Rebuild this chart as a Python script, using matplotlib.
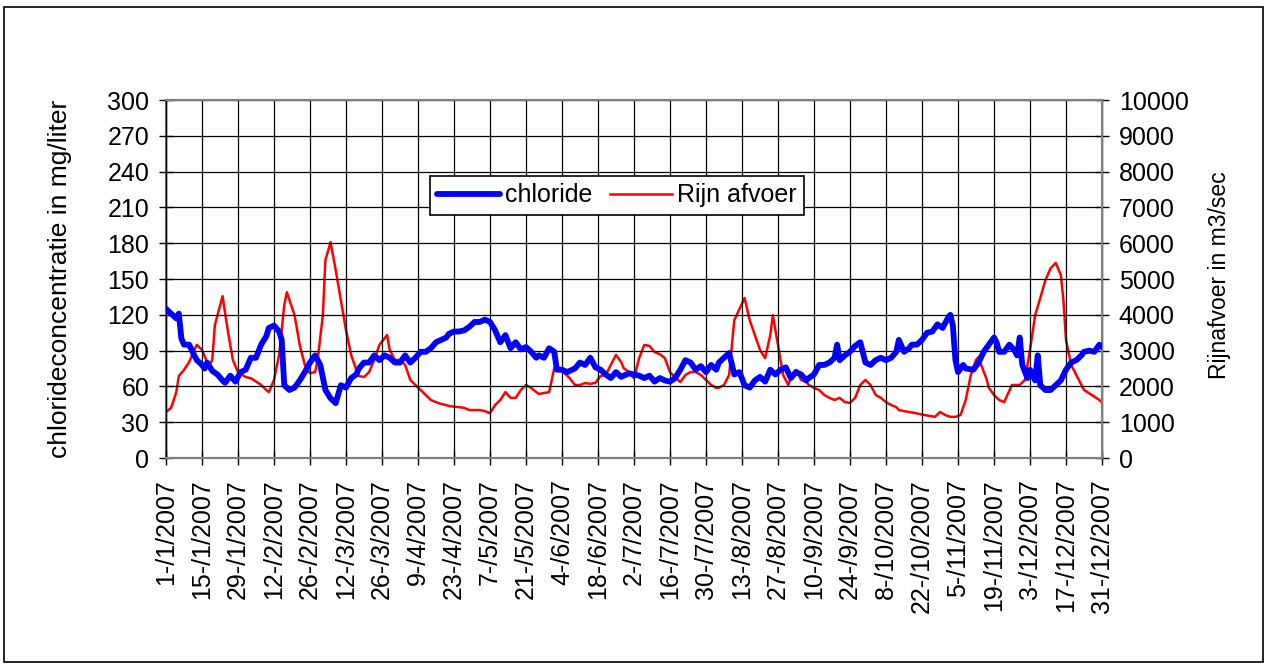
#!/usr/bin/python3

import datetime as dt
import matplotlib.pyplot as plt
from matplotlib.patches import Rectangle

plt.rcParams['font.family'] = ['Liberation Sans', 'DejaVu Sans']

# day offsets since 1 jan 2007 + values
chl_days = [0, 2, 4, 5, 6, 7, 9, 11, 12, 14,
            15, 16, 18, 20, 22, 23, 25, 27, 29, 31,
            33, 35, 37, 39, 40, 42, 44, 45, 46, 48,
            50, 52, 54, 56, 58, 60, 62, 64, 66, 68,
            70, 72, 74, 75, 77, 79, 81, 83, 85, 87,
            89, 91, 93, 95, 97, 99, 101, 103, 105, 107,
            109, 110, 112, 114, 116, 118, 120, 122, 124, 126,
            128, 130, 132, 134, 136, 138, 140, 142, 144, 145,
            147, 149, 151, 152, 154, 156, 159, 161, 163, 165,
            167, 169, 171, 173, 175, 177, 179, 180, 184, 186,
            188, 190, 192, 194, 196, 198, 200, 202, 204, 206,
            208, 210, 212, 214, 215, 217, 219, 221, 223, 225,
            227, 229, 231, 233, 235, 237, 239, 241, 243, 245,
            247, 249, 250, 252, 254, 256, 258, 260, 261, 262,
            264, 266, 268, 270, 272, 274, 276, 278, 280, 282,
            284, 285, 287, 289, 290, 292, 294, 296, 298, 300,
            302, 304, 305, 306, 307, 308, 310, 311, 314, 316,
            318, 320, 322, 323, 324, 326, 328, 330, 331, 332,
            333, 335, 336, 338, 339, 340, 342, 344, 346, 348,
            350, 352, 354, 356, 357, 359, 361, 363, 364]
chloride = [125, 121, 117, 121, 100, 95, 95, 86, 82, 78,
            75, 80, 73, 70, 65, 63, 69, 64, 72, 74,
            84, 84, 95, 102, 109, 111, 106, 99, 61, 57,
            59, 65, 72, 80, 86, 78, 57, 50, 46, 61,
            59, 67, 70, 75, 80, 80, 86, 82, 86, 84,
            80, 80, 86, 80, 84, 89, 89, 92, 97, 99,
            101, 104, 106, 106, 107, 110, 114, 114, 116, 114,
            107, 97, 103, 92, 97, 91, 93, 89, 84, 86,
            84, 92, 89, 74, 74, 72, 75, 80, 78, 84,
            76, 74, 70, 67, 72, 68, 70, 71, 69, 67,
            69, 64, 67, 65, 64, 67, 74, 82, 80, 74,
            77, 72, 78, 74, 80, 84, 88, 70, 72, 61,
            59, 65, 68, 64, 74, 70, 74, 76, 67, 72,
            70, 65, 67, 70, 78, 78, 80, 84, 95, 82,
            86, 89, 94, 97, 80, 78, 82, 84, 82, 84,
            89, 99, 89, 92, 95, 95, 99, 105, 106, 112,
            109, 117, 120, 111, 82, 72, 78, 75, 74, 80,
            89, 95, 101, 97, 89, 89, 95, 90, 86, 101,
            78, 67, 74, 65, 86, 61, 57, 57, 61, 65,
            74, 80, 82, 86, 89, 90, 89, 95, 93]

rijn_days = [0, 2, 4, 5, 7, 9, 11, 12, 14, 16,
             17, 18, 19, 22, 24, 26, 28, 31, 33, 37,
             39, 40, 42, 44, 46, 47, 50, 52, 54, 56,
             58, 59, 61, 62, 64, 66, 68, 70, 72, 74,
             75, 77, 79, 81, 83, 86, 87, 89, 91, 93,
             95, 97, 99, 101, 103, 105, 107, 109, 110, 114,
             116, 118, 122, 124, 126, 128, 130, 132, 134, 136,
             138, 140, 142, 144, 145, 147, 149, 151, 153, 155,
             157, 159, 161, 163, 165, 167, 169, 171, 173, 175,
             177, 178, 180, 182, 184, 186, 188, 190, 192, 194,
             196, 198, 200, 202, 204, 206, 208, 210, 212, 214,
             215, 217, 219, 221, 225, 227, 229, 231, 233, 235,
             236, 238, 240, 242, 243, 245, 247, 249, 250, 252,
             254, 256, 258, 260, 262, 264, 266, 268, 270, 272,
             274, 276, 278, 280, 282, 284, 285, 287, 289, 291,
             295, 299, 301, 303, 305, 307, 309, 311, 313, 315,
             316, 317, 319, 320, 322, 324, 326, 327, 329, 332,
             334, 336, 338, 340, 342, 344, 346, 348, 349, 350,
             352, 355, 357, 360, 363, 364]
rijn_afvoer = [1285, 1400, 1840, 2290, 2460, 2680, 3020, 3160, 3020, 2680,
               2600, 2740, 3710, 4520, 3575, 2740, 2400, 2260, 2230, 2040,
               1900, 1840, 2180, 2880, 4270, 4630, 3990, 3160, 2600, 2370,
               2400, 2740, 3990, 5530, 6030, 5250, 4410, 3575, 2880, 2460,
               2290, 2260, 2400, 2740, 3160, 3435, 3020, 2740, 2740, 2600,
               2180, 2040, 1900, 1760, 1620, 1560, 1510, 1480, 1450, 1420,
               1400, 1340, 1340, 1310, 1250, 1480, 1620, 1840, 1680, 1680,
               1900, 2040, 1960, 1840, 1790, 1815, 1840, 2510, 2510, 2370,
               2230, 2040, 2040, 2095, 2070, 2100, 2290, 2320, 2600, 2880,
               2680, 2510, 2400, 2230, 2790, 3160, 3130, 2960, 2900, 2790,
               2400, 2260, 2120, 2320, 2400, 2400, 2320, 2180, 2040, 1960,
               1960, 2040, 2320, 3850, 4470, 3850, 3435, 3020, 2790, 3435,
               3990, 3160, 2320, 2040, 2230, 2460, 2180, 2120, 2040, 1960,
               1900, 1760, 1680, 1620, 1680, 1560, 1540, 1680, 2040, 2180,
               2040, 1760, 1680, 1560, 1480, 1420, 1340, 1310, 1285, 1260,
               1200, 1150, 1285, 1200, 1150, 1150, 1200, 1620, 2320, 2740,
               2820, 2600, 2230, 1960, 1760, 1620, 1560, 1730, 2040, 2040,
               2180, 3020, 3990, 4470, 4970, 5300, 5450, 5110, 4410, 3300,
               2600, 2180, 1900, 1760, 1620, 1550]

start = dt.date(2007, 1, 1)


def to_dates(days):
    return [start + dt.timedelta(days=d) for d in days]


fig = plt.figure(figsize=(12.69, 6.66), dpi=100)
ax = fig.add_axes([0.1308, 0.3123, 0.7376, 0.5375])
ax2 = ax.twinx()

# figure frame
fig.patches.append(Rectangle((0.003, 0.006), 0.992, 0.983, transform=fig.transFigure,
                             fill=False, edgecolor='black', linewidth=1.2))

l1, = ax.plot(to_dates(chl_days), chloride, color='#0000FF', linewidth=4.2,
              solid_joinstyle='round', solid_capstyle='round',
              label='chloride', zorder=3)
l2, = ax2.plot(to_dates(rijn_days), rijn_afvoer, color='#FF0000', linewidth=1.8,
               solid_joinstyle='round', label='Rijn afvoer')

ax.set_zorder(ax2.get_zorder() + 1)
ax.patch.set_visible(False)

ax.set_xlim(start, start + dt.timedelta(days=364))
ax.set_ylim(0, 300)
ax2.set_ylim(0, 10000)
ax.set_yticks(range(0, 301, 30))
ax2.set_yticks(range(0, 10001, 1000))

xt = [start + dt.timedelta(days=d) for d in range(0, 365, 14)]
ax.set_xticks(xt)
ax.set_xticklabels([f"{d.day}-/{d.month}/{d.year}" for d in xt], rotation=90)

ax.grid(True, color='black', linewidth=0.9)
for a in (ax, ax2):
    a.tick_params(labelsize=18, length=10, width=1.0, direction='inout', pad=7)
    for s in a.spines.values():
        s.set_color('#808080')
        s.set_linewidth(1.5)
ax.tick_params(axis='x', pad=10)
ax.spines['left'].set_color('black')
ax2.spines['right'].set_color('black')
ax.spines['left'].set_linewidth(1.0)
ax2.spines['right'].set_linewidth(1.0)

ax.set_ylabel('chlorideconcentratie in mg/liter', fontsize=19)
ax2.set_ylabel('Rijnafvoer in m3/sec', fontsize=16.5)
ax.yaxis.set_label_coords(-0.1004, 0.5)
ax2.yaxis.set_label_coords(1.113, 0.51)

leg = ax.legend([l1, l2], ['chloride', 'Rijn afvoer'], ncol=2, loc='center',
                bbox_to_anchor=(0.482, 0.734), fontsize=18, fancybox=False,
                framealpha=1, edgecolor='black', handlelength=2.5,
                columnspacing=0.7, handletextpad=0.2, borderpad=0.3,
                borderaxespad=0)
leg.get_frame().set_linewidth(1.2)

plt.savefig('out.png', dpi=100)
